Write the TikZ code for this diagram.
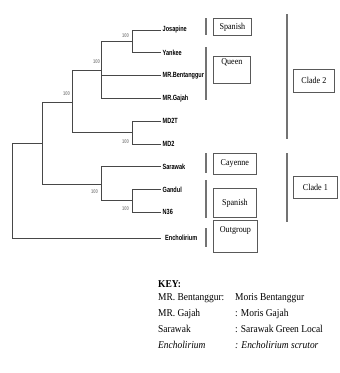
\documentclass[tikz,border=0pt]{standalone}
\usepackage{fontspec}
\setmainfont{Liberation Serif}
\newfontfamily\leaffont{Liberation Sans}[FakeStretch=0.74]
\newfontfamily\keyfont{Liberation Serif}[FakeStretch=0.9]
\usetikzlibrary{positioning}

\begin{document}
\begin{tikzpicture}[x=1pt,y=-1pt,
  br/.style={draw=black!72,line width=1pt},
  lf/.style={anchor=west,inner sep=1.5pt,font=\leaffont\bfseries\fontsize{7.5}{8}\selectfont},
  bs/.style={inner sep=0pt,text=black!45,font=\leaffont\bfseries\fontsize{5.5}{6}\selectfont},
  tag/.style={draw=black!65,line width=0.8pt,anchor=north west,inner sep=0pt,font=\keyfont\fontsize{9}{10}\selectfont},
  bar/.style={draw=black!55,line width=1.2pt},
  key/.style={anchor=base west,inner sep=0pt,font=\keyfont\fontsize{10.5}{12}\selectfont}]
  \useasboundingbox (0,0) rectangle (340,373);
  \node[lf] (jo) at (161,30) {Josapine};
  \node[lf] (ya) at (161,52.5) {Yankee};
  \node[lf] (mb) at (161,75.5) {MR.Bentanggur};
  \node[lf] (mg) at (161,98.5) {MR.Gajah};
  \node[lf] (m2t) at (161,121) {MD2T};
  \node[lf] (m2) at (161,144) {MD2};
  \node[lf] (sa) at (161,166.5) {Sarawak};
  \node[lf] (ga) at (161,189.5) {Gandul};
  \node[lf] (n36) at (161,212) {N36};
  \node[lf,inner xsep=4pt] (en) at (161,238) {Encholirium};
  \coordinate (jy) at (132,41.25);
  \coordinate (n3) at (101,70);
  \coordinate (md) at (132,132.5);
  \coordinate (n4) at (72,102);
  \coordinate (gn) at (132,200.75);
  \coordinate (c1) at (101,184);
  \coordinate (n2) at (42,143);
  \coordinate (rt) at (12,190);
  \draw[br] (jy) |- (jo.west); \draw[br] (jy) |- (ya.west);
  \draw[br] (n3) |- (jy); \draw[br] (n3) |- (mb.west); \draw[br] (n3) |- (mg.west);
  \draw[br] (md) |- (m2t.west); \draw[br] (md) |- (m2.west);
  \draw[br] (n4) |- (n3); \draw[br] (n4) |- (md);
  \draw[br] (gn) |- (ga.west); \draw[br] (gn) |- (n36.west);
  \draw[br] (c1) |- (sa.west); \draw[br] (c1) |- (gn);
  \draw[br] (n2) |- (n4); \draw[br] (n2) |- (c1);
  \draw[br] (rt) |- (n2); \draw[br] (rt) |- (en.west);
  \node[bs,anchor=south east,xshift=-3pt,yshift=4pt] at (jy) {100};
  \node[bs,anchor=south east,xshift=-1pt,yshift=6pt] at (n3) {100};
  \node[bs,anchor=south east,xshift=-2pt,yshift=6pt] at (n4) {100};
  \node[bs,anchor=north east,xshift=-3pt,yshift=-7pt] at (md) {100};
  \node[bs,anchor=north east,xshift=-3pt,yshift=-5pt] at (c1) {100};
  \node[bs,anchor=north east,xshift=-3pt,yshift=-6pt] at (gn) {100};
  % groups
  \draw[bar] (206,18)--(206,35); \draw[bar] (206,47)--(206,100);
  \draw[bar] (206,153)--(206,173); \draw[bar] (206,180)--(206,218);
  \draw[bar] (206,228)--(206,247);
  \draw[bar] (287,14)--(287,139); \draw[bar] (287,153)--(287,222);
  \node[tag,minimum width=38pt,minimum height=17pt] (sp1) at (213,18) {Spanish};
  \node[tag,minimum width=37pt,text height=8pt,text depth=19pt] (qu) at (213,56) {Queen};
  \node[tag,minimum width=43pt,minimum height=21pt] (cy) at (213,153) {Cayenne};
  \node[tag,minimum width=43pt,minimum height=29pt] (sp2) at (213,188) {Spanish};
  \node[tag,minimum width=44pt,text height=12pt,text depth=20pt] (og) at (213,220) {Outgroup};
  \node[tag,minimum width=41pt,minimum height=23pt] (cl2) at (293,69) {Clade 2};
  \node[tag,minimum width=44pt,minimum height=22pt] (cl1) at (293,176) {Clade 1};
  % key
  \node[key,font=\keyfont\bfseries\fontsize{10.5}{12}\selectfont] (kh) at (158,287) {KEY:};
  \node[key] (k1) at (158,300) {MR.\ Bentanggur:};
  \node[key] (v1) at (235,300) {Moris Bentanggur};
  \node[key] (k2) at (158,316) {MR.\ Gajah};
  \node[key] (v2) at (235,316) {: Moris Gajah};
  \node[key] (k3) at (158,332) {Sarawak};
  \node[key] (v3) at (235,332) {: Sarawak Green Local};
  \node[key] (k4) at (158,348) {\itshape Encholirium};
  \node[key] (v4) at (235,348) {\itshape : Encholirium scrutor};
\end{tikzpicture}
\end{document}
